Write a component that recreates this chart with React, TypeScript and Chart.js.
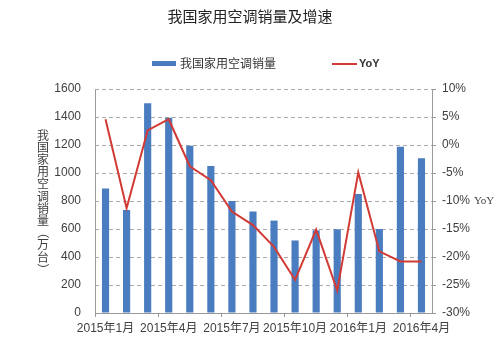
import React, { useEffect, useRef } from "react";
import { Chart, registerables } from "chart.js";

Chart.register(...registerables);

const months: string[] = [
  "2015年1月", "2015年2月", "2015年3月", "2015年4月", "2015年5月", "2015年6月",
  "2015年7月", "2015年8月", "2015年9月", "2015年10月", "2015年11月", "2015年12月",
  "2016年1月", "2016年2月", "2016年3月", "2016年4月",
];
const sales: number[] = [890, 736, 1498, 1395, 1195, 1050, 800, 725, 660, 518, 590, 598, 850, 600, 1188, 1105];
const yoy: number[] = [4.6, -11.3, 2.6, 4.6, -3.8, -6.3, -11.9, -14.3, -18.2, -24.1, -15.1, -26.0, -4.9, -19.0, -20.8, -20.8];

const titleText = "我国家用空调销量及增速";
const barLabel = "我国家用空调销量";
const lineLabel = "YoY";
const leftAxisTitle = ["我", "国", "家", "用", "空", "调", "销", "量", "（", "万", "台", "）"];
const rightAxisTitle = "YoY";

const BLUE = "#4a7dc0";
const RED = "#d23a36";
const CJK = "'Noto Sans CJK SC', 'Noto Sans', sans-serif";
const SANS = "'Liberation Sans', Arial, 'Noto Sans CJK SC', sans-serif";

const dashedGridPlugin = {
  id: "dashedGrid",
  beforeDatasetsDraw(chart: any) {
    const ctx = chart.ctx as CanvasRenderingContext2D;
    const ys = chart.scales.y;
    const { left, right } = chart.chartArea;
    ctx.save();
    ctx.strokeStyle = "#aaaaaa";
    ctx.lineWidth = 1;
    ctx.setLineDash([4, 3]);
    ys.ticks.forEach((t: any) => {
      if (t.value === ys.min) return;
      const py = Math.round(ys.getPixelForValue(t.value)) + 0.5;
      ctx.beginPath();
      ctx.moveTo(left, py);
      ctx.lineTo(right, py);
      ctx.stroke();
    });
    ctx.restore();
  },
};

const decorPlugin = {
  id: "decor",
  afterDraw(chart: any) {
    const ctx = chart.ctx as CanvasRenderingContext2D;
    ctx.save();
    // legend
    ctx.fillStyle = BLUE;
    ctx.fillRect(152, 61, 24, 5);
    ctx.fillStyle = "#333";
    ctx.font = `12px ${CJK}`;
    ctx.textBaseline = "middle";
    ctx.textAlign = "left";
    ctx.fillText(barLabel, 180, 63.5);
    ctx.strokeStyle = RED;
    ctx.lineWidth = 2;
    ctx.beginPath();
    ctx.moveTo(332, 64);
    ctx.lineTo(357, 64);
    ctx.stroke();
    ctx.font = `bold 11px ${SANS}`;
    ctx.fillText(lineLabel, 359, 64);

    // left axis title, stacked characters
    ctx.font = `12px ${CJK}`;
    ctx.fillStyle = "#404040";
    ctx.textAlign = "center";
    let y = 135;
    leftAxisTitle.forEach((ch) => {
      if (ch === "（" || ch === "）") {
        ctx.save();
        ctx.translate(43, y);
        ctx.rotate(Math.PI / 2);
        ctx.fillText(ch, 0, 0);
        ctx.restore();
      } else {
        ctx.fillText(ch, 43, y);
      }
      y += 12.2;
    });

    // right axis title
    ctx.font = `11px 'Liberation Serif', serif`;
    ctx.textAlign = "left";
    ctx.fillText(rightAxisTitle, 474, 201);
    ctx.restore();
  },
};

export default function App() {
  const ref = useRef<HTMLCanvasElement | null>(null);

  useEffect(() => {
    if (!ref.current) return;
    const chart = new Chart(ref.current, {
      type: "bar",
      data: {
        labels: months,
        datasets: [
          {
            type: "line",
            label: lineLabel,
            data: yoy,
            yAxisID: "y1",
            borderColor: RED,
            backgroundColor: RED,
            borderWidth: 2,
            pointRadius: 0,
            tension: 0,
            order: 0,
          } as any,
          {
            type: "bar",
            label: barLabel,
            data: sales,
            yAxisID: "y",
            backgroundColor: BLUE,
            barPercentage: 0.34,
            categoryPercentage: 1,
            order: 1,
          },
        ],
      },
      options: {
        responsive: false,
        animation: false,
        layout: { padding: 0 },
        plugins: {
          legend: { display: false },
          tooltip: { enabled: false },
          title: {
            display: true,
            text: titleText,
            color: "#222",
            font: { size: 15, family: CJK, weight: "normal" },
            padding: { top: 7, bottom: 64 },
          },
        },
        scales: {
          x: {
            offset: true,
            grid: {
              offset: true,
              drawOnChartArea: false,
              drawTicks: true,
              tickLength: 4,
              color: (c: any) => (c.index % 3 === 0 ? "#999" : "rgba(0,0,0,0)"),
            },
            border: { display: true, color: "#999", width: 1 },
            ticks: {
              autoSkip: false,
              maxRotation: 0,
              minRotation: 0,
              padding: 4,
              color: "#404040",
              font: { size: 12, family: SANS },
              callback: (_v: any, i: number) => (i % 3 === 0 ? months[i] : ""),
            },
            afterFit: (s: any) => {
              s.height = 40;
            },
          },
          y: {
            position: "left",
            min: 0,
            max: 1600,
            ticks: {
              stepSize: 200,
              padding: 14,
              color: "#404040",
              font: { size: 12, family: SANS },
              callback: (v: any) => String(v),
            },
            grid: { drawOnChartArea: false, drawTicks: false, tickLength: 0 },
            border: { display: true, color: "#999" },
            afterFit: (s: any) => {
              s.width = 95;
            },
          },
          y1: {
            position: "right",
            min: -30,
            max: 10,
            ticks: {
              stepSize: 5,
              padding: 6,
              color: "#404040",
              font: { size: 12, family: SANS },
              callback: (v: any) => `${v}%`,
            },
            grid: { drawOnChartArea: false, drawTicks: true, tickLength: 4, color: "#999" },
            border: { display: true, color: "#999" },
            afterFit: (s: any) => {
              s.width = 68;
            },
          },
        },
      } as any,
      plugins: [dashedGridPlugin, decorPlugin],
    });
    return () => chart.destroy();
  }, []);

  return (
    <div style={{ position: "absolute", left: 0, top: 0, width: 500, height: 353, background: "#fff" }}>
      <canvas ref={ref} width={500} height={353} />
    </div>
  );
}
